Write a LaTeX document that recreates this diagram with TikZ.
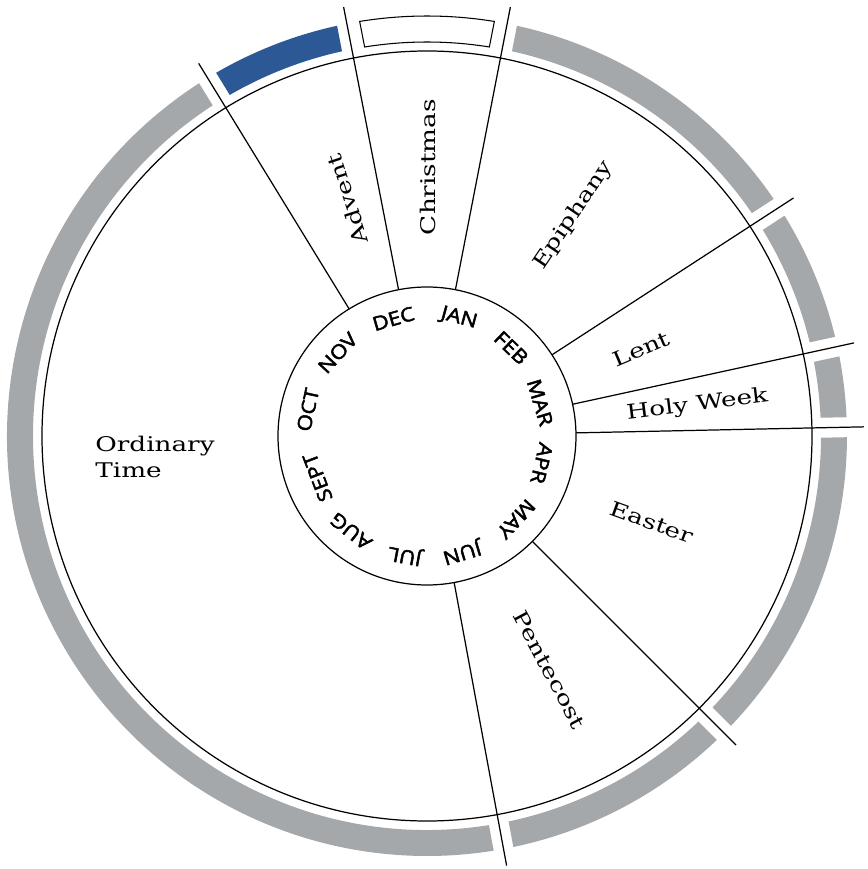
\documentclass[tikz,border=0pt]{standalone}
\usepackage{fontspec}
\setmainfont{DejaVu Serif}[FakeStretch=1.3]
\newfontfamily\monthfont{Open Sans}[FakeBold=2.5, FakeStretch=1.15]
\usepackage{xcolor}
\definecolor{adventblue}{RGB}{44,89,150}
\definecolor{bandgray}{RGB}{165,168,171}

% radii of the coloured ring (in px units of the picture)
\newcommand{\ringin}{394}
\newcommand{\ringout}{420}
% #1 start angle, #2 end angle, #3 half gap at the dividers, #4 style
\newcommand{\seasonband}[4]{%
  \path[#4] ({#1+asin(#3/\ringout)}:\ringout)
    arc[start angle={#1+asin(#3/\ringout)}, end angle={#2-asin(#3/\ringout)}, radius=\ringout]
    -- ({#2-asin(#3/\ringin)}:\ringin)
    arc[start angle={#2-asin(#3/\ringin)}, end angle={#1+asin(#3/\ringin)}, radius=\ringin]
    -- cycle;}

\begin{document}
\begin{tikzpicture}[x=0.02cm, y=0.02cm,
    season/.style={font=\fontsize{11.5}{14.7}\selectfont, inner sep=0pt},
    month/.style={font=\monthfont\fontsize{11}{13}\selectfont, inner sep=0pt},
    divline/.style={line width=0.7pt},
    graybar/.style={fill=bandgray},
    bluebar/.style={fill=adventblue},
    openbar/.style={draw, fill=white, line width=0.6pt}
]
    \useasboundingbox (-427,-433) rectangle (440,436);

    % outer ring of seasons
    \seasonband{121.5}{280.5}{10}{graybar}
    \seasonband{101}{121.5}{10}{bluebar}
    \seasonband{79}{101}{13}{openbar}
    \seasonband{33}{79}{10}{graybar}
    \seasonband{12.3}{33}{10}{graybar}
    \seasonband{1.2}{12.3}{10}{graybar}
    \seasonband{-45}{1.2}{10}{graybar}
    \seasonband{-79.5}{-45}{10}{graybar}

    \draw[divline] (0,0) circle[radius=385];
    \draw[divline] (0,0) circle[radius=149];

    % dividers between the seasons
    \foreach \a in {121.5,101,79,33,12.3,1.2,-45,-79.5}
        \draw[divline] (\a:149) -- (\a:437);

    % months round the inner circle
    \foreach \ang/\rad/\mon in {106/122/DEC, 74.8/122/JAN, 46.3/122/FEB, 16.5/118/MAR,
                                -13.4/118/APR, -42.9/122/MAY, -73.3/121/JUN, -100.5/121/JUL,
                                -128.6/122/AUG, -159.2/117/SEPT, 167.6/122/OCT, 137.1/122/NOV}
        \node[month, rotate=\ang-90] (m-\mon) at (\ang:\rad) {\mon};

    % season names
    \node[season, rotate=108] (advent) at (108.6:250) {Advent};
    \node[season, rotate=90] (christmas) at (89.8:269) {Christmas};
    \node[season, rotate=56] (epiphany) at (56.4:265) {Epiphany};
    \node[season, rotate=23] (lent) at (22.1:231) {Lent};
    \node[season, rotate=7] (holyweek) at (6.5:272) {Holy Week};
    \node[season, rotate=-20] (easter) at (-21:241) {Easter};
    \node[season, rotate=-62] (pentecost) at (-62.3:264) {Pentecost};
    \node[season, align=left, anchor=west] (ordinary) at (-332,-21) {Ordinary\\Time};
\end{tikzpicture}
\end{document}
